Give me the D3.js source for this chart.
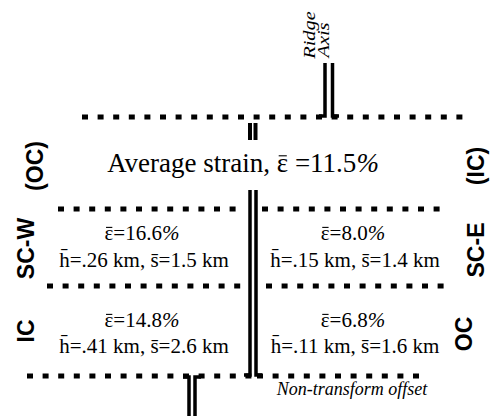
<!DOCTYPE html>
<html>
<head>
<meta charset="utf-8">
<script src="https://cdn.jsdelivr.net/npm/d3@7"></script>
<style>
  body { margin: 0; background: #fff; }
  svg { display: block; }
</style>
</head>
<body>
<div id="my_dataviz"></div>
<script>
// values
var quads = ["SC-W", "SC-E", "IC", "OC"],
  quadCol = ["W", "E", "W", "E"],
  quadRow = ["SC", "SC", "end", "end"],
  strain = [16.6, 8.0, 14.8, 6.8],     // mean strain, %
  relief = [0.26, 0.15, 0.41, 0.11],   // mean fault height, km
  spacing = [1.5, 1.4, 2.6, 1.6];      // mean fault spacing, km
var avgStrain = 11.5;
var leftLabels = ["(OC)", "SC-W", "IC"],
  rightLabels = ["(IC)", "SC-E", "OC"];

var width = 492, height = 416;

var svg = d3.select("#my_dataviz")
  .append("svg")
  .attr("width", width)
  .attr("height", height);

// columns / rows of the four boxes
var x = d3.scalePoint().domain(["W", "E"]).range([142, 353]);
var y = d3.scalePoint().domain(["SC", "end"]).range([240, 327]);
var yLeft = d3.scalePoint().domain(leftLabels).range([166, 331]);
var yRight = d3.scalePoint().domain(rightLabels).range([166, 334]);

//------------------------------------------------------------------------//
// dotted boundaries
var dotted = [
  [82, 467, 117],
  [58, 236, 209], [262, 447, 209],
  [47, 246, 286], [266, 451, 286],
  [27, 252, 376], [257, 423, 376]
];
svg.append("g")
  .selectAll("line")
  .data(dotted)
  .enter()
  .append("line")
  .attr("x1", function(d) { return d[0]; })
  .attr("x2", function(d) { return d[1]; })
  .attr("y1", function(d) { return d[2]; })
  .attr("y2", function(d) { return d[2]; })
  .attr("stroke", "#000")
  .attr("stroke-width", 5)
  .attr("stroke-dasharray", "6 9.6");

// double lines (ridge segments)
var dbl = svg.append("g")
  .attr("fill", "none")
  .attr("stroke", "#000")
  .attr("stroke-width", 3.5);

// ridge axis on top
dbl.append("path").attr("d", "M325,63V116H319");
dbl.append("path").attr("d", "M332.5,63V116H339");
// short tick under top line
dbl.append("path").attr("d", "M250,123V140").attr("stroke-width", 4);
dbl.append("path").attr("d", "M255.5,123V140").attr("stroke-width", 4);
// central segment
dbl.append("path").attr("d", "M250,190V375H244");
dbl.append("path").attr("d", "M256,190V375H262");
// lower segment
dbl.append("path").attr("d", "M189,416V377H183");
dbl.append("path").attr("d", "M195,416V377H201");

//------------------------------------------------------------------------//
// text
var serif = "'Liberation Serif', 'Times New Roman', serif",
  sans = "'Liberation Sans', Arial, sans-serif";

function ridgeLabel(txt, xb, yc) {
  svg.append("text")
    .attr("transform", "translate(" + xb + "," + yc + ")rotate(-90)scale(1.2,1)")
    .attr("text-anchor", "middle")
    .style("font-family", serif)
    .style("font-style", "italic")
    .style("font-size", "17px")
    .text(txt);
}
ridgeLabel("Ridge", 315, 35);
ridgeLabel("Axis", 329, 40);

// put a bar over the epsilon of a text (epsilon at char index idx)
function barOver(t, idx, fs) {
  var box = t.node().getExtentOfChar(idx);
  var yb = +t.attr("y") - fs * 0.6;
  svg.append("line")
    .attr("x1", box.x + fs * 0.07)
    .attr("x2", box.x + box.width - fs * 0.05)
    .attr("y1", yb)
    .attr("y2", yb)
    .attr("stroke", "#000")
    .attr("stroke-width", 1.1);
}

var avg = svg.append("text")
  .attr("x", 243)
  .attr("y", 172)
  .attr("text-anchor", "middle")
  .style("font-family", serif)
  .style("font-size", "27px");
var avgHead = "Average strain, ";
avg.append("tspan").text(avgHead + "\u03b5 =" + avgStrain);
avg.append("tspan").style("font-style", "italic").text("%");
barOver(avg, avgHead.length, 27);

quads.forEach(function(q, i) {
  var t1 = svg.append("text")
    .attr("x", x(quadCol[i]))
    .attr("y", y(quadRow[i]))
    .attr("text-anchor", "middle")
    .style("font-family", serif)
    .style("font-size", "21px");
  t1.append("tspan").text("\u03b5=" + d3.format(".1f")(strain[i]));
  t1.append("tspan").style("font-style", "italic").text("%");
  barOver(t1, 0, 21);

  svg.append("text")
    .attr("x", x(quadCol[i]) + 2)
    .attr("y", y(quadRow[i]) + (quadRow[i] == "SC" ? 27 : 26))
    .attr("text-anchor", "middle")
    .style("font-family", serif)
    .style("font-size", "21px")
    .text("h\u0304=" + d3.format(".2f")(relief[i]).replace(/^0/, "") + " km, s\u0304=" +
      d3.format(".1f")(spacing[i]) + " km");
});

svg.append("text")
  .attr("x", 352)
  .attr("y", 395)
  .attr("text-anchor", "middle")
  .style("font-family", serif)
  .style("font-style", "italic")
  .style("font-size", "18px")
  .text("Non-transform offset");

// side labels
var leftX = { "(OC)": 43, "SC-W": 34, "IC": 34 },
  rightX = { "(IC)": 484, "SC-E": 484, "OC": 472 };
leftLabels.forEach(function(l) {
  svg.append("text")
    .attr("transform", "translate(" + leftX[l] + "," + yLeft(l) + ")rotate(-90)")
    .attr("text-anchor", "middle")
    .style("font-family", sans)
    .style("font-weight", "bold")
    .style("font-size", "23px")
    .text(l);
});
rightLabels.forEach(function(l) {
  svg.append("text")
    .attr("transform", "translate(" + rightX[l] + "," + yRight(l) + ")rotate(-90)")
    .attr("text-anchor", "middle")
    .style("font-family", sans)
    .style("font-weight", "bold")
    .style("font-size", "23px")
    .text(l);
});
</script>
</body>
</html>
